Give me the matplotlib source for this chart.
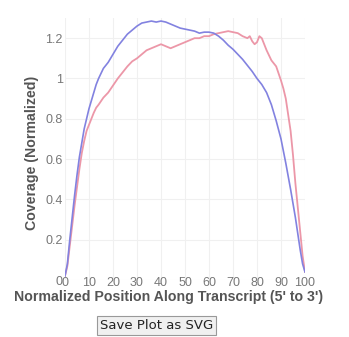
import matplotlib
matplotlib.use("Agg")
from matplotlib import pyplot as plt

plt.rcParams['font.family'] = ['Liberation Sans', 'DejaVu Sans']

# normalized coverage along the transcript
blue_pos = [0, 1, 2, 3, 4, 5, 6, 7, 8, 9, 10, 11, 12, 13, 14, 16, 18, 20, 22, 24,
            26, 28, 30, 32, 34, 36, 38, 40, 42, 44, 46, 48, 50, 52, 54, 56, 58, 60,
            62, 64, 66, 68, 70, 72, 74, 76, 78, 80, 82, 84, 86, 88, 90, 92, 94, 96,
            98, 99, 100]
blue_cov = [0.02, 0.08, 0.2, 0.31, 0.42, 0.52, 0.61, 0.68, 0.75, 0.8, 0.85, 0.89,
            0.93, 0.97, 1.0, 1.05, 1.08, 1.12, 1.16, 1.19, 1.22, 1.24, 1.26, 1.275,
            1.28, 1.285, 1.28, 1.285, 1.28, 1.27, 1.26, 1.25, 1.245, 1.24, 1.235,
            1.225, 1.23, 1.23, 1.225, 1.21, 1.19, 1.165, 1.145, 1.12, 1.095, 1.065,
            1.035, 1.0, 0.97, 0.93, 0.87, 0.79, 0.7, 0.58, 0.45, 0.31, 0.15, 0.08, 0.04]

red_pos = [0, 1, 2, 3, 4, 5, 6, 7, 8, 9, 10, 11, 12, 13, 14, 16, 18, 20, 22, 24,
           26, 28, 30, 32, 34, 36, 38, 40, 42, 44, 46, 48, 50, 52, 54, 56, 58, 60,
           62, 64, 66, 68, 70, 72, 74, 76, 77, 78, 79, 80, 81, 82, 84, 86, 88, 90,
           91, 92, 93, 94, 95, 96, 97, 98, 99, 100]
red_cov = [0.02, 0.07, 0.17, 0.27, 0.37, 0.46, 0.55, 0.63, 0.69, 0.74, 0.77, 0.8,
           0.83, 0.855, 0.87, 0.905, 0.93, 0.965, 1.0, 1.03, 1.06, 1.085, 1.1, 1.12,
           1.14, 1.15, 1.16, 1.17, 1.16, 1.15, 1.16, 1.17, 1.18, 1.19, 1.2, 1.2,
           1.21, 1.21, 1.22, 1.225, 1.23, 1.235, 1.23, 1.225, 1.21, 1.2, 1.21, 1.185,
           1.17, 1.18, 1.21, 1.2, 1.14, 1.09, 1.06, 0.99, 0.95, 0.9, 0.82, 0.74,
           0.62, 0.48, 0.36, 0.24, 0.12, 0.04]

x_ticks = [0, 10, 20, 30, 40, 50, 60, 70, 80, 90, 100]
y_ticks = [0, 0.2, 0.4, 0.6, 0.8, 1.0, 1.2]
y_labels = ['0', '0.2', '0.4', '0.6', '0.8', '1', '1.2']

fig = plt.figure(figsize=(3.49, 3.37), dpi=100)
ax = fig.add_axes([0.1862, 0.1691, 0.6877, 0.7774])

ax.plot(red_pos, red_cov, color='#ec97a8', lw=1.3)
ax.plot(blue_pos, blue_cov, color='#8282e0', lw=1.2)

ax.set_xlim(0, 100)
ax.set_ylim(0, 1.3)
ax.set_xticks(x_ticks)
ax.set_yticks(y_ticks)
ax.set_yticklabels(y_labels)
ax.grid(True, color='#f0f0f0', lw=0.8)
ax.set_axisbelow(True)
for s in ax.spines.values():
    s.set_visible(False)
ax.tick_params(length=0, labelsize=9, labelcolor='#777777')
ax.tick_params(axis='x', pad=-2)
ax.tick_params(axis='y', pad=1.5)

fig.text(0.483, 0.119, "Normalized Position Along Transcript (5' to 3')",
         fontsize=10.2, fontweight='bold', color='#555555', ha='center', va='center')
fig.text(0.093, 0.546, "Coverage (Normalized)", fontsize=10.2, fontweight='bold',
         color='#555555', ha='center', va='center', rotation=90)

fig.text(0.448, 0.034, "Save Plot as SVG", fontsize=9.5, color='#222222',
         family='DejaVu Sans', ha='center', va='center',
         bbox=dict(boxstyle='square,pad=0.2', fc='#f0f0f0', ec='#999999', lw=0.8))

fig.savefig('out.png', dpi=100)
